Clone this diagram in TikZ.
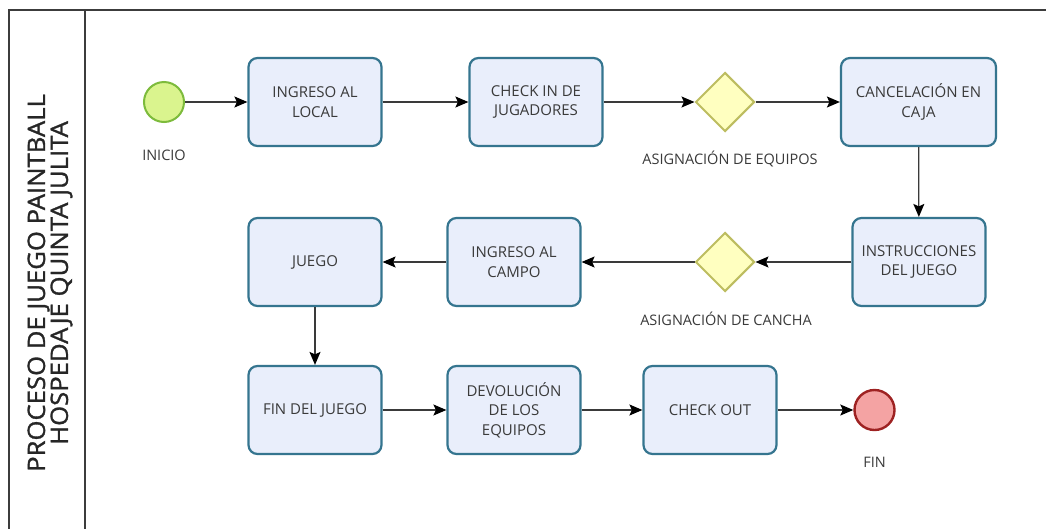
\documentclass[tikz,border=0pt]{standalone}
\usepackage{fontspec}
\setmainfont{Open Sans}
\newfontfamily\titlefont[FakeStretch=1.07,FakeBold=1.2]{Open Sans}
\usetikzlibrary{arrows.meta,shapes.geometric}
\definecolor{boxfill}{HTML}{E9EEFB}
\definecolor{boxdraw}{HTML}{35758F}
\definecolor{txt}{HTML}{3A3A3A}
\definecolor{startfill}{HTML}{DAF48E}
\definecolor{startdraw}{HTML}{7DBB3C}
\definecolor{endfill}{HTML}{F4A3A3}
\definecolor{enddraw}{HTML}{9E2222}
\definecolor{gwfill}{HTML}{FFFFC0}
\definecolor{gwdraw}{HTML}{BDBD60}
\definecolor{frame}{HTML}{3C3C3C}
\begin{document}
\begin{tikzpicture}[x=1pt,y=-1pt,
  lbl/.style={font=\fontsize{14.5}{18}\selectfont, text=txt, inner sep=0pt},
  task/.style={draw=boxdraw, line width=2.2pt, fill=boxfill, rounded corners=9pt,
    minimum width=133pt, minimum height=88pt, align=center,
    font=\fontsize{15}{19.5}\selectfont, text=txt, inner sep=0pt},
  startev/.style={circle, draw=startdraw, fill=startfill, line width=2pt, minimum size=40pt, inner sep=0pt},
  endev/.style={circle, draw=enddraw, fill=endfill, line width=2.4pt, minimum size=40pt, inner sep=0pt},
  gw/.style={diamond, aspect=1, draw=gwdraw, fill=gwfill, line width=2pt, minimum width=59pt, minimum height=59pt, inner sep=0pt},
  flow/.style={draw=txt, line width=1.2pt, -{Stealth[length=13pt,width=11pt,inset=2.5pt,color=black]}},
  lane/.style={draw=frame, line width=1.6pt}
]
\clip (0,0) rectangle (1046,528);
\useasboundingbox (0,0) rectangle (1046,528);
\fill[white] (0,0) rectangle (1046,528);

% pool frame
\coordinate (fbl) at (9,540);
\coordinate (ftl) at (9,10);
\coordinate (ftr) at (1060,10);
\coordinate (dtop) at (85,10);
\coordinate (dbot) at (85,540);
\draw[lane] (fbl) -- (ftl) -- (ftr);
\draw[lane] (dtop) -- (dbot);
\node[rotate=90, align=center, font=\titlefont\fontsize{24}{20.5}\selectfont, text=black!85, inner sep=0pt] (title) at (50,283)
  {PROCESO DE JUEGO PAINTBALL\\HOSPEDAJE QUINTA JULITA};

% nodes
\node[startev] (inicio) at (164,102) {};
\node[lbl] (inicioL) at (164,155) {INICIO};
\node[task] (b1) at (315,102) {INGRESO AL\\LOCAL};
\node[task] (b2) at (536,102) {CHECK IN DE\\JUGADORES};
\node[gw] (d1) at (725,102) {};
\node[lbl] (d1L) at (730,159) {ASIGNACIÓN DE EQUIPOS};
\node[task, minimum width=155pt] (b3) at (918.5,102) {CANCELACIÓN EN\\CAJA};
\node[task] (b4) at (919,262) {INSTRUCCIONES\\DEL JUEGO};
\node[gw] (d2) at (725,262) {};
\node[lbl] (d2L) at (726,319) {ASIGNACIÓN DE CANCHA};
\node[task] (b5) at (514,262) {INGRESO AL\\CAMPO};
\node[task] (b6) at (315,262) {JUEGO};
\node[task] (b7) at (315,410) {FIN DEL JUEGO};
\node[task] (b8) at (514,410) {DEVOLUCIÓN\\DE LOS\\EQUIPOS};
\node[task] (b9) at (710,410) {CHECK OUT};
\node[endev] (fin) at (874.5,410) {};
\node[lbl] (finL) at (874.5,462) {FIN};

% flows
\draw[flow] (inicio) -- (b1);
\draw[flow] (b1) -- (b2);
\draw[flow] (b2) -- (d1);
\draw[flow] (d1) -- (b3);
\draw[flow] (b3) -- (b4);
\draw[flow] (b4) -- (d2);
\draw[flow] (d2) -- (b5);
\draw[flow] (b5) -- (b6);
\draw[flow] (b6) -- (b7);
\draw[flow] (b7) -- (b8);
\draw[flow] (b8) -- (b9);
\draw[flow] (b9) -- (fin);
\end{tikzpicture}
\end{document}
